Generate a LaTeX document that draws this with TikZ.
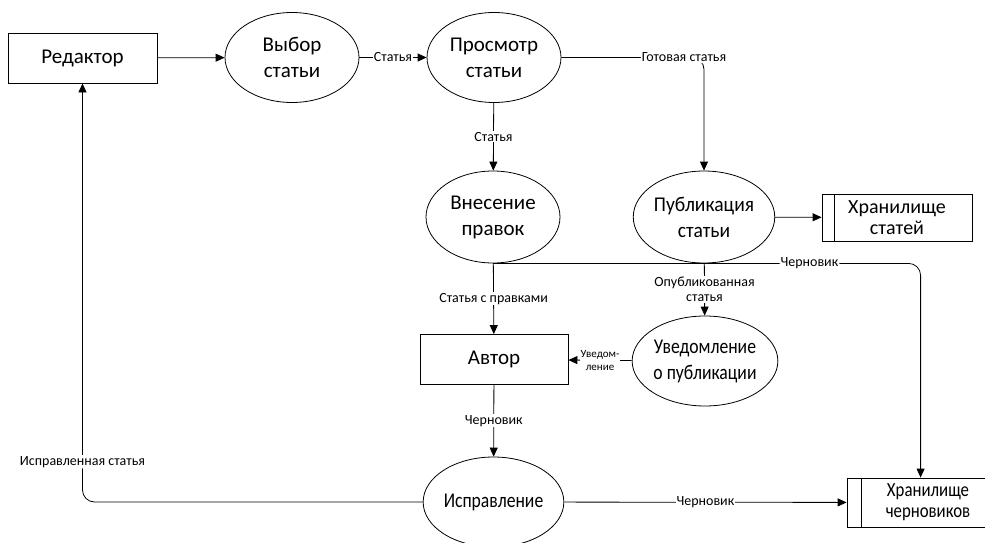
\documentclass[tikz,border=0pt]{standalone}
\usepackage{fontspec}
\setmainfont{Carlito}
\newfontfamily\condfont[FakeStretch=0.84]{Carlito}
\newfontfamily\semicondfont[FakeStretch=0.93]{Carlito}
\usetikzlibrary{arrows.meta,shapes.geometric}

\begin{document}
\begin{tikzpicture}[x=1pt,y=-1pt,
  line width=0.8pt,
  proc/.style={draw, ellipse, inner sep=0pt, minimum width=134pt, minimum height=90pt,
    align=center, font=\fontsize{21}{26}\selectfont},
  ent/.style={draw, rectangle, inner sep=0pt, minimum height=50pt,
    font=\fontsize{21}{26}\selectfont},
  store/.style={draw, rectangle, inner sep=0pt, minimum height=48pt, align=center,
    font=\fontsize{20}{21}\selectfont},
  flow/.style={-{Triangle[length=9pt,width=8pt]}},
  lbl/.style={fill=white, inner sep=1pt, align=center, font=\fontsize{14}{15}\selectfont},
  tiny/.style={fill=white, inner sep=1pt, align=center, font=\fontsize{11}{13}\selectfont},
]
\useasboundingbox (0,0) rectangle (985,543);
\clip (0,0) rectangle (985,543);

% external entities
\node[ent, minimum width=149pt] (red) at (82.5,58) {Редактор};
\node[ent, minimum width=148pt] (avt) at (494,359.5) {Автор};

% processes
\node[proc] (vyb) at (292,57.5) {Выбор\\статьи};
\node[proc] (pros) at (494,57.5) {Просмотр\\статьи};
\node[proc, minimum height=92pt] (vn) at (493,217) {Внесение\\правок};
\node[proc, minimum height=92pt] (pub) at (704,217) {\semicondfont Публикация\\\semicondfont статьи};
\node[proc] (uv) at (705,361) {\condfont Уведомление\\\condfont о публикации};
\node[proc] (isp) at (493.5,502) {\condfont Исправление};

% data stores
\node[store, minimum width=150pt, minimum height=47pt] (hs) at (897,217.5) {Хранилище\\статей};
\draw ([xshift=13pt]hs.north west) -- ([xshift=13pt]hs.south west);
\node[store, minimum width=162pt, minimum height=49pt] (hc) at (928,502.5) {\condfont Хранилище\\\condfont черновиков};
\draw ([xshift=15pt]hc.north west) -- ([xshift=15pt]hc.south west);

% data flows
\draw[flow] (red) -- (vyb);
\draw[flow] (vyb) -- node[lbl] {Статья} (pros);
\draw[flow, rounded corners=12pt] (pros.east) -| node[lbl, pos=0.43] {Готовая статья} (pub.north);
\draw[flow] (pros) -- node[lbl] {Статья} (vn);
\draw[flow] (pub) -- (hs);
\draw[flow, rounded corners=12pt] (vn.south) -| node[lbl, pos=0.37] {Черновик} ([xshift=74pt]hc.north west);
\draw[flow] (vn) -- node[lbl] {Статья с правками} (avt);
\draw[flow] (pub) -- node[lbl] {Опубликованная\\статья} (uv);
\draw[flow] (uv) -- node[tiny] {Уведом-\\ление} (avt);
\draw[flow] (avt) -- node[lbl] {Черновик} (isp);
\draw[flow, rounded corners=12pt] (isp.west) -| node[lbl, pos=0.548] {Исправленная статья} (red.south);
\draw[flow] (isp) -- node[lbl] {Черновик} (hc);
\end{tikzpicture}
\end{document}
